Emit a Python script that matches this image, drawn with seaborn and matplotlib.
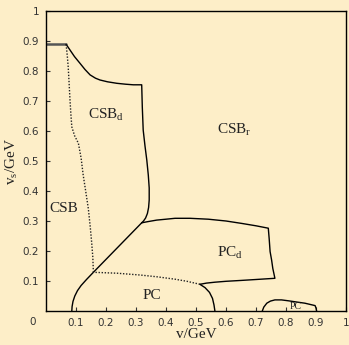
import matplotlib
matplotlib.use('Agg')
import matplotlib.pyplot as plt
import seaborn as sns
import pandas as pd

# Phase boundaries (v, v_s in GeV)
top_x = [0.0, 0.067]
top_y = [0.889, 0.889]

csbd_x = [0.067, 0.08, 0.095, 0.113, 0.13, 0.147, 0.165, 0.18, 0.205, 0.236, 0.265, 0.291, 0.319,
          0.321, 0.324, 0.33, 0.336, 0.341, 0.344, 0.344, 0.342, 0.338, 0.332, 0.325, 0.319]
csbd_y = [0.889, 0.87, 0.848, 0.826, 0.805, 0.787, 0.776, 0.77, 0.764, 0.759, 0.756, 0.754, 0.754,
          0.68, 0.603, 0.55, 0.503, 0.453, 0.41, 0.37, 0.345, 0.325, 0.31, 0.3, 0.294]

diag_x = [0.319, 0.158, 0.135, 0.117, 0.105, 0.096, 0.09, 0.087, 0.086]
diag_y = [0.294, 0.129, 0.105, 0.085, 0.068, 0.05, 0.032, 0.015, 0.0]

pcd_x = [0.319, 0.34, 0.369, 0.4, 0.43, 0.48, 0.541, 0.6, 0.652, 0.7, 0.741,
         0.744, 0.747, 0.752, 0.756, 0.763, 0.7, 0.652, 0.6, 0.563, 0.535, 0.513]
pcd_y = [0.294, 0.298, 0.303, 0.306, 0.309, 0.309, 0.306, 0.3, 0.292, 0.284, 0.276,
         0.24, 0.198, 0.17, 0.142, 0.109, 0.105, 0.102, 0.099, 0.096, 0.093, 0.089]

pc_x = [0.513, 0.53, 0.545, 0.555, 0.56, 0.563]
pc_y = [0.089, 0.078, 0.062, 0.042, 0.02, 0.0]

dot1_x = [0.513, 0.47, 0.43, 0.37, 0.313, 0.236, 0.158]
dot1_y = [0.089, 0.099, 0.106, 0.114, 0.12, 0.126, 0.129]

dot2_x = [0.067, 0.071, 0.074, 0.077, 0.08, 0.083, 0.086, 0.095, 0.108, 0.117, 0.124, 0.133, 0.141, 0.147, 0.152, 0.156, 0.158]
dot2_y = [0.889, 0.85, 0.814, 0.76, 0.703, 0.655, 0.614, 0.585, 0.559, 0.51, 0.453, 0.395, 0.342, 0.285, 0.231, 0.18, 0.129]

pc2_x = [0.721, 0.726, 0.736, 0.748, 0.763, 0.785, 0.808, 0.835, 0.863, 0.897, 0.9, 0.902]
pc2_y = [0.0, 0.013, 0.026, 0.033, 0.037, 0.037, 0.034, 0.03, 0.026, 0.018, 0.01, 0.0]

ticks = [0.1, 0.2, 0.3, 0.4, 0.5, 0.6, 0.7, 0.8, 0.9, 1.0]
tick_labels = ['0.1', '0.2', '0.3', '0.4', '0.5', '0.6', '0.7', '0.8', '0.9', '1']

bg = '#fdeec8'
sns.set_theme(style='ticks')
plt.rcParams['mathtext.fontset'] = 'custom'
plt.rcParams['mathtext.rm'] = 'Liberation Serif'

fig = plt.figure(figsize=(3.49, 3.45), dpi=100, facecolor=bg)
ax = fig.add_axes([46/349, 34/345, 300/349, 300/345])
ax.set_facecolor(bg)

def curve(x, y, **kw):
    df = pd.DataFrame({'x': x, 'y': y})
    sns.lineplot(data=df, x='x', y='y', sort=False, estimator=None, ax=ax, **kw)

curve(top_x, top_y, color='#555555', linewidth=1.8)
curve(csbd_x, csbd_y, color='black', linewidth=1.0)
curve(diag_x, diag_y, color='black', linewidth=1.0)
curve(pcd_x, pcd_y, color='black', linewidth=1.0)
curve(pc_x, pc_y, color='black', linewidth=1.0)
curve(pc2_x, pc2_y, color='black', linewidth=1.0)
curve(dot1_x, dot1_y, color='#222222', linewidth=1.0, linestyle=(0, (1, 1.2)))
curve(dot2_x, dot2_y, color='#222222', linewidth=1.0, linestyle=(0, (1, 1.2)))

ax.set_xlim(0, 1)
ax.set_ylim(0, 1)
ax.set_xticks(ticks)
ax.set_xticklabels(tick_labels)
ax.set_yticks(ticks)
ax.set_yticklabels(tick_labels)
ax.tick_params(direction='in', length=3, width=0.8, color='#333333',
               labelsize=7.5, labelcolor='#333333', pad=5)
for s in ax.spines.values():
    s.set_color('black')
    s.set_linewidth(1.0)

ax.text(-0.045, -0.02, '0', transform=ax.transAxes, ha='center', va='top',
        fontsize=7.5, color='#333333')

serif = 'Liberation Serif'
ax.set_xlabel('v/GeV', fontfamily=serif, fontsize=11, color='#222222', labelpad=0)
ax.set_ylabel(r'v$_\mathregular{s}$/GeV', fontfamily=serif, fontsize=11, color='#222222', labelpad=2)

def region(x, y, main, sub='', size=11):
    ax.text(x, y, main + (r'$_\mathregular{%s}$' % sub if sub else ''),
            fontfamily=serif, fontsize=size, color='#222222', ha='center', va='center')

region(0.2, 0.653, 'CSB', 'd')
region(0.628, 0.603, 'CSB', 'r')
region(0.058, 0.343, 'CSB')
region(0.352, 0.053, 'PC')
region(0.613, 0.193, 'PC', 'd')
region(0.833, 0.014, 'PC', size=7)

fig.savefig('out.png', dpi=100, facecolor=bg)
